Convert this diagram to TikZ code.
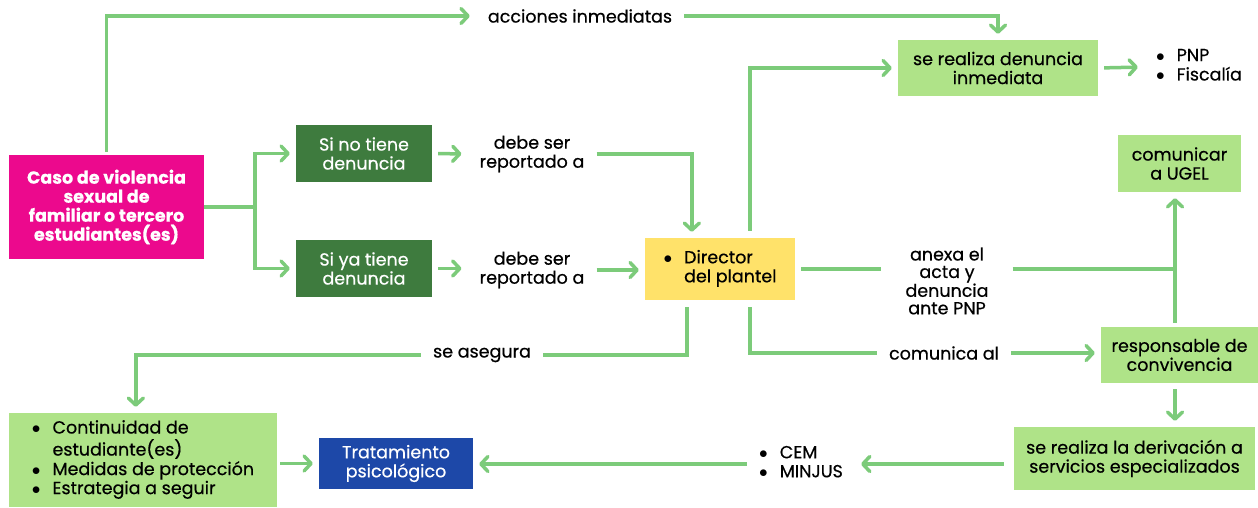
\documentclass[tikz,border=0pt]{standalone}
\usepackage{fontspec}
\setmainfont{Poppins}[FakeBold=0.5]
\usepackage{tikz}
\usetikzlibrary{arrows.meta,positioning}

\definecolor{rosa}{HTML}{EC098D}
\definecolor{verdeoscuro}{HTML}{3E7B3E}
\definecolor{amarillo}{HTML}{FFE26A}
\definecolor{verdeclaro}{HTML}{AFE388}
\definecolor{azul}{HTML}{1D48A8}
\definecolor{verdelinea}{HTML}{7CCB7A}

\newcommand{\vin}{$\bullet$}

\begin{document}
\begin{tikzpicture}[
			x = 1pt, y = -1pt,
			every node/.style = {font = \fontsize{17.5}{19}\selectfont},
			caja/.style = {fill = verdeclaro, inner sep = 0pt, align = center},
			etiqueta/.style = {inner ysep = 0pt, inner xsep = 12pt, align = center},
			linea/.style = {draw = verdelinea, line width = 3.5pt},
			flecha/.style = {linea, -{Straight Barb[round,length=7pt,width=15pt]}, shorten > = 6pt}]

			\useasboundingbox (0,0) rectangle (1258,508);

			\node[caja,fill=rosa,text=white,font=\fontsize{17.5}{19}\bfseries,minimum width=195,minimum height=104] (caso) at (106.5,207) {Caso de violencia\\sexual de\\familiar o tercero\\estudiantes(es)};
			\node[caja,fill=verdeoscuro,text=white,minimum width=136,minimum height=57] (sino) at (364,153.5) {Si no tiene\\denuncia};
			\node[caja,fill=verdeoscuro,text=white,minimum width=136,minimum height=57] (siya) at (364,268.5) {Si ya tiene\\denuncia};
			\node[etiqueta] (rep1) at (532,154) {debe ser\\reportado a};
			\node[etiqueta] (rep2) at (532,270) {debe ser\\reportado a};
			\node[caja,fill=amarillo,minimum width=150,minimum height=62] (dir) at (720,269) {\begin{tabular}{@{}l@{\hspace{12pt}}l@{}}\vin&Director\\&del plantel\end{tabular}};
			\node[etiqueta] (acc) at (580,16) {acciones inmediatas};
			\node[caja,minimum width=200,minimum height=56] (denu) at (998,68) {se realiza denuncia\\inmediata};
			\node[etiqueta] (pnp) at (1199,67) {\begin{tabular}{@{}l@{\hspace{12pt}}l@{}}\vin&PNP\\\vin&Fiscalía\end{tabular}};
			\node[caja,minimum width=123,minimum height=57] (ugel) at (1179.5,163.5) {comunicar\\a UGEL};
			\node[etiqueta,inner xsep=24pt,font=\fontsize{17.5}{17.5}\selectfont] (anexa) at (947,281) {anexa el\\acta y\\denuncia\\ante PNP};
			\node[caja,minimum width=157,minimum height=56] (resp) at (1179.5,355) {responsable de\\convivencia};
			\node[etiqueta] (com) at (944,353) {comunica al};
			\node[etiqueta] (ase) at (482,355) {se asegura};
			\node[caja,minimum width=241,minimum height=63] (deriv) at (1134.5,458.5) {se realiza la derivación a\\servicios especializados};
			\node[etiqueta] (cem) at (801,464) {\begin{tabular}{@{}l@{\hspace{12pt}}l@{}}\vin&CEM\\\vin&MINJUS\end{tabular}};
			\node[caja,fill=azul,text=white,minimum width=154,minimum height=51] (trat) at (396,463.5) {Tratamiento\\psicológico};
			\node[caja,minimum width=268,minimum height=94] (cont) at (143,460) {\begin{tabular}{@{}l@{\hspace{12pt}}l@{}}\vin&Continuidad de\\&estudiante(es)\\\vin&Medidas de protección\\\vin&Estrategia a seguir\end{tabular}};

			\draw[flecha] ([yshift=3pt]caso.north) |- (acc.west);
			\draw[flecha] (acc.east) -| (denu.north);

			\draw[linea] (caso.east) -- ++(51,0) coordinate (sep);
			\draw[flecha] (sep) |- (sino.west);
			\draw[flecha] (sep) |- (siya.west);

			\draw[flecha,shorten <=6pt] (sino.east) -- (rep1.west);
			\draw[flecha,shorten <=6pt] (siya.east) -- (rep2.west |- siya.east);
			\draw[flecha] (rep1.east) -| ([xshift=47pt]dir.north west);
			\draw[flecha] (rep2.east) -- (dir.west |- rep2.east);

			\draw[flecha] ([xshift=105pt,yshift=7pt]dir.north west) |- (denu.west);
			\draw[flecha,shorten <=6pt] (denu.east) -- (pnp.west);

			\draw[linea,shorten <=6pt] (dir.east) -- (dir.east -| anexa.west);
			\draw[linea] (dir.east -| anexa.east) -- ([xshift=-4.5pt]dir.east -| ugel.south);
			\draw[flecha] ([xshift=-4.5pt,yshift=4pt]resp.north) -- ([xshift=-4.5pt]ugel.south);

			\draw[linea] ([xshift=42pt,yshift=-7pt]dir.south west) |- (ase.east);
			\draw[flecha] (ase.west) -| ([xshift=127pt]cont.north west);
			\draw[linea] ([xshift=105pt,yshift=-7pt]dir.south west) |- (com.west);
			\draw[flecha] (com.east) -- (resp.west |- com.east);

			\draw[flecha,shorten <=6pt] ([xshift=-4.5pt]resp.south) -- ([xshift=-4.5pt]resp.south |- deriv.north);
			\draw[flecha,shorten <=10pt] (deriv.west |- cem.east) -- (cem.east);
			\draw[flecha] (cem.west) -- (trat.east |- cem.west);
			\draw[flecha,shorten <=3pt] (cont.east |- trat.west) -- (trat.west);

		\end{tikzpicture}
\end{document}
